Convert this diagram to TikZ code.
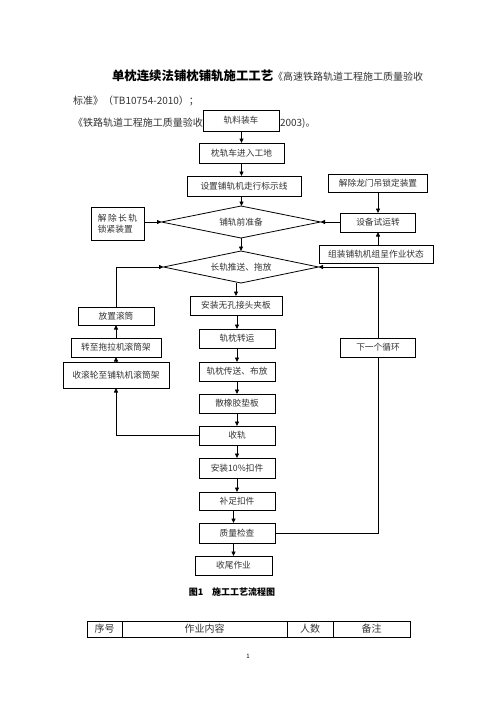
\documentclass[tikz,border=0pt]{standalone}
\usepackage{fontspec}
\setmainfont{Noto Sans CJK SC}
\usetikzlibrary{shapes.geometric,arrows.meta}
\begin{document}
\begin{tikzpicture}[x=1pt,y=-1pt,
  every node/.style={inner sep=0pt, outer sep=0pt},
  boxn/.style={draw, line width=0.8pt, fill=white, text=black!80, font=\fontsize{8.7}{11}\selectfont},
  dia/.style={draw, diamond, shape aspect=5, line width=0.8pt, fill=white, text=black!80, font=\fontsize{8.7}{11}\selectfont},
  arr/.style={line width=0.8pt, -{Triangle[length=4.5pt,width=4pt]}},
  ln/.style={line width=0.8pt}]
\useasboundingbox (0,0) rectangle (496,702);
% header text
\node[anchor=base west, font=\fontsize{12.4}{14}\selectfont\bfseries] (t1) at (112,80) {单枕连续法铺枕铺轨施工工艺};
\node[anchor=base west, font=\fontsize{10}{12}\selectfont, text=black!80] (t1b) at (t1.base east) {《高速铁路轨道工程施工质量验收};
\node[anchor=base west, font=\fontsize{10}{12}\selectfont, text=black!80] (t2) at (73,104) {标准》（TB10754-2010）；};
\node[anchor=base west, font=\fontsize{10}{12}\selectfont, text=black!80] (t3) at (73,126) {《铁路轨道工程施工质量验收};
\node[anchor=base west, font=\fontsize{10}{12}\selectfont, text=black!80] (t3b) at (280,126) {2003)。};
% main column
\node[boxn, minimum width=76, minimum height=21] (n1) at (241,120.5) {轨料装车};
\node[boxn, minimum width=85, minimum height=20] (n2) at (241.5,153) {枕轨车进入工地};
\node[boxn, minimum width=114, minimum height=20] (n3) at (244,186) {设置铺轨机走行标示线};
\node[dia, minimum width=159, minimum height=32] (d1) at (241,222) {铺轨前准备};
\node[dia, minimum width=155, minimum height=32] (d2) at (241,267) {长轨推送、拖放};
\node[boxn, minimum width=92, minimum height=19] (c1) at (236,305.5) {安装无孔接头夹板};
\node[boxn, minimum width=76, minimum height=19] (c2) at (237,338.5) {轨枕转运};
\node[boxn, minimum width=76, minimum height=19] (c3) at (237,371.5) {轨枕传送、布放};
\node[boxn, minimum width=76, minimum height=19] (c4) at (237,403.5) {散橡胶垫板};
\node[boxn, minimum width=76, minimum height=19] (c5) at (237,435.5) {收轨};
\node[boxn, minimum width=76, minimum height=20] (c6) at (237,468) {安装10\%扣件};
\node[boxn, minimum width=76, minimum height=18] (c7) at (237,501) {补足扣件};
\node[boxn, minimum width=76, minimum height=20] (c8) at (237,533) {质量检查};
\node[boxn, minimum width=77, minimum height=19] (c9) at (233.5,565.5) {收尾作业};
% left
\node[boxn, minimum width=53, minimum height=33, align=left] (L1) at (117.5,223.5) {解\,除\,长\,轨\\锁紧装置};
\node[boxn, minimum width=76, minimum height=18] (l1) at (116,316) {放置滚筒};
\node[boxn, minimum width=90, minimum height=19] (l2) at (116,347.5) {转至拖拉机滚筒架};
\node[boxn, minimum width=106, minimum height=26] (l3) at (116,375) {收滚轮至铺轨机滚筒架};
% right
\node[boxn, minimum width=99, minimum height=18] (R0) at (378,183) {解除龙门吊锁定装置};
\node[boxn, minimum width=75, minimum height=19] (R1) at (378,222.5) {设备试运转};
\node[boxn, minimum width=114, minimum height=18] (R2) at (376,254) {组装铺轨机组呈作业状态};
\node[boxn, minimum width=75, minimum height=19] (r) at (378,347.5) {下一个循环};
% connectors
\draw[arr] (n1.south -| n2.north) -- (n2.north);
\draw[arr] (n2.south) -- (n2.south |- n3.north);
\draw[arr] (n2.south |- n3.south) -- (n2.south |- d1.north);
\draw[arr] (d1.south) -- (d2.north);
\draw[arr] (L1.east |- d1.west) -- (d1.west);
\draw[arr] (R1.west |- d1.east) -- (d1.east);
\draw[arr] (R0.south) -- (R1.north);
\draw[arr] (R2.north -| R1.south) -- (R1.south);
\draw[arr] (c1.north |- d2.south) -- (c1.north);
\draw[arr] (c2.north |- c1.south) -- (c2.north);
\draw[arr] (c2.south) -- (c3.north);
\draw[arr] (c3.south) -- (c4.north);
\draw[arr] (c4.south) -- (c5.north);
\draw[arr] (c5.south) -- (c6.north);
\draw[arr] (c6.south) -- (c7.north);
\draw[arr] (c9.north |- c7.south) -- (c9.north |- c8.north);
\draw[arr] (c9.north |- c8.south) -- (c9.north);
\draw[arr] (l1.north) -- (l1.north |- d2.west) -- (d2.west);
\draw[arr] (l2.north) -- (l1.south);
\draw[arr] (l3.north) -- (l2.south);
\draw[arr] (c5.west) -- (l3.south |- c5.west) -- (l3.south);
\draw[ln] (c8.east) -- (c8.east -| r.south) -- (r.south);
\draw[arr] (r.north) -- (r.north |- d2.east) -- (d2.east);
% caption
\node[anchor=center, font=\fontsize{9}{11}\selectfont\bfseries] (cap) at (232,592) {图1\quad 施工工艺流程图};
% table
\draw[line width=0.8pt] (87,621) rectangle (410,637);
\draw[line width=0.8pt] (122,621) -- (122,637) (287,621) -- (287,637) (333,621) -- (333,637);
\node[font=\fontsize{10}{12}\selectfont, text=black!80] (h1) at (104.5,629) {序号};
\node[font=\fontsize{10}{12}\selectfont, text=black!80] (h2) at (204.5,629) {作业内容};
\node[font=\fontsize{10}{12}\selectfont, text=black!80] (h3) at (310,629) {人数};
\node[font=\fontsize{10}{12}\selectfont, text=black!80] (h4) at (371.5,629) {备注};
\node[font=\fontsize{6}{7}\selectfont] (pg) at (248,656) {1};
\end{tikzpicture}
\end{document}
